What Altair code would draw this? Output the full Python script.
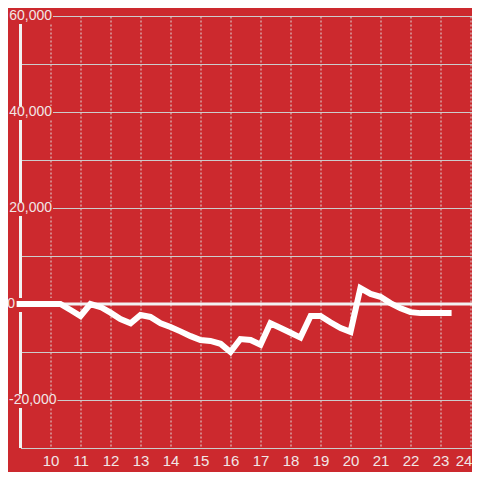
import altair as alt
import pandas as pd

# ---- data ----
hours = [8.87, 10.33, 10.67, 11.0, 11.33, 11.67, 12.0, 12.33, 12.67, 13.0, 13.33,
         13.67, 14.0, 14.33, 14.67, 15.0, 15.33, 15.67, 16.0, 16.33, 16.67, 17.0,
         17.33, 17.67, 18.0, 18.33, 18.67, 19.0, 19.33, 19.67, 20.0, 20.33, 20.67,
         21.0, 21.33, 21.67, 22.0, 22.33, 22.67, 23.0, 23.37]
values = [0, 0, -1250, -2500, 0, -625, -1800, -3125, -4000, -2300, -2700,
          -4000, -4800, -5700, -6700, -7500, -7700, -8300, -10000, -7300, -7500, -8500,
          -4000, -5000, -6000, -7000, -2500, -2500, -3800, -5000, -5800, 3300, 2100,
          1500, 200, -900, -1700, -1900, -1900, -1900, -1900]

x_ticks = list(range(10, 25))
y_grid = [-30000, -20000, -10000, 0, 10000, 20000, 30000, 40000, 50000, 60000]
y_label_values = [60000, 40000, 20000, 0, -20000]
y_label_text = ["60,000", "40,000", "20,000", "0", "-20,000"]

RED = "#cc292e"
FONT = "Liberation Sans"
TXT = "#f1e6e6"
LINE_W = "#f2f2f2"

df = pd.DataFrame({"hour": hours, "value": values})
labels = pd.DataFrame({"value": y_label_values, "text": y_label_text})

x_enc = alt.X("hour:Q",
              scale=alt.Scale(domain=[9, 24.05], nice=False, zero=False),
              axis=alt.Axis(values=x_ticks, format="d", grid=True, gridDash=[2, 2],
                            gridColor="#dddddd", gridWidth=1, domain=False, ticks=False,
                            labelFontSize=15, labelFont=FONT, labelColor=TXT,
                            labelPadding=5, title=None,
                            labelOffset={"condition": {"test": "datum.value == 24", "value": -7},
                                         "value": 0}))
y_enc = alt.Y("value:Q",
              scale=alt.Scale(domain=[-30000, 60000], nice=False, zero=False),
              axis=alt.Axis(values=y_grid, labels=False, ticks=False, domain=False,
                            grid=True, gridColor="#cccccc", gridWidth=1, title=None))

line = alt.Chart(df).mark_line(color="#ffffff", strokeWidth=6, strokeJoin="miter",
                               strokeCap="butt").encode(x=x_enc, y=y_enc)

yaxis_line = alt.Chart(df).mark_rule(color=LINE_W, strokeWidth=3).encode(
    x=alt.value(0), y=alt.value(0), y2=alt.value(432))

boxes_pos = alt.Chart(labels).transform_filter("datum.value >= 0").mark_rect(
    color=RED, yOffset=-6, y2Offset=8).encode(
    y=y_enc, y2=alt.Y2("value"), x=alt.value(-12.5), x2=alt.value(32.5))

boxes_neg = alt.Chart(labels).transform_filter("datum.value < 0").mark_rect(
    color=RED, yOffset=-6, y2Offset=8).encode(
    y=y_enc, y2=alt.Y2("value"), x=alt.value(-12.5), x2=alt.value(37))

zero_line = alt.Chart(labels).transform_filter("datum.value == 0").mark_rule(
    color=LINE_W, strokeWidth=3).encode(y=y_enc, x=alt.value(-3.5), x2=alt.value(451.5))

lab_pos = alt.Chart(labels).transform_filter("datum.value > 0").mark_text(
    align="right", baseline="middle", font=FONT, fontSize=14, color=TXT).encode(
    y=y_enc, x=alt.value(31.5), text="text:N")

lab_zero = alt.Chart(labels).transform_filter("datum.value == 0").mark_text(
    align="right", baseline="middle", font=FONT, fontSize=14, color=TXT).encode(
    y=y_enc, x=alt.value(-5.5), text="text:N")

lab_neg = alt.Chart(labels).transform_filter("datum.value < 0").mark_text(
    align="left", baseline="middle", font=FONT, fontSize=14, color=TXT).encode(
    y=y_enc, x=alt.value(-11.5), text="text:N")

chart = alt.layer(yaxis_line, boxes_pos, boxes_neg, zero_line, line,
                  lab_pos, lab_zero, lab_neg).properties(
    width=451.5, height=432,
    autosize=alt.AutoSizeParams(type="none"),
    padding={"left": 12.5, "top": 8, "right": 0, "bottom": 24},
    background=RED,
).configure_view(stroke=None)

chart.save("out.html", embed_options={"renderer": "svg", "actions": False})
